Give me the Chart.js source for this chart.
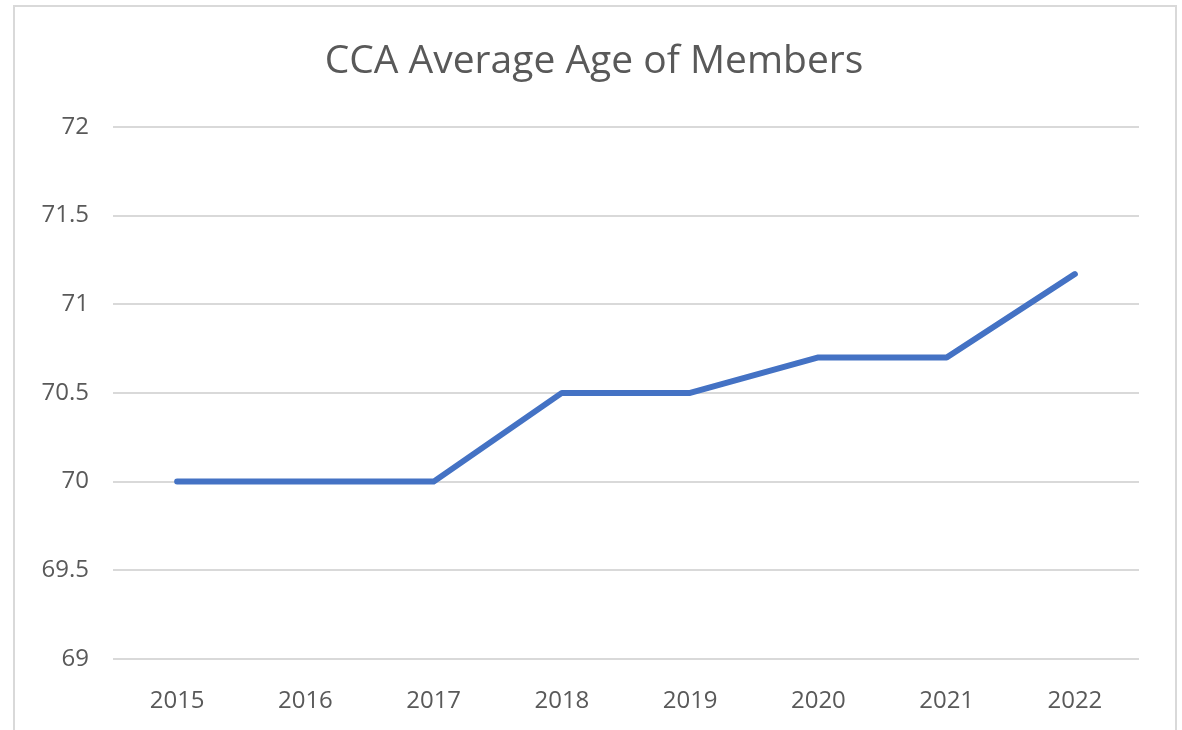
<!DOCTYPE html>
<html>
<head>
<meta charset="utf-8">
<script src="https://cdn.jsdelivr.net/npm/chart.js@4"></script>
<style>
    html, body { margin: 0; padding: 0; background: #ffffff; overflow: hidden; }
    #frame {
        position: absolute; left: 13px; top: 5px; width: 1164px; height: 740px;
        border: 2px solid #d9d9d9; box-sizing: border-box;
    }
    #wrap { position: absolute; left: 0; top: 0; width: 1182px; height: 730px; }
</style>
</head>
<body>
<div id="frame"></div>
<div id="wrap"><canvas id="graficaEdad"></canvas></div>
<script>
const years = ['2015', '2016', '2017', '2018', '2019', '2020', '2021', '2022'];
const avgAge = [70, 70, 70, 70.5, 70.5, 70.7, 70.7, 71.17];
const yTicks = [69, 69.5, 70, 70.5, 71, 71.5, 72];

// nudge the title so it sits centred over the whole frame, like the original
const shiftTitle = {
    id: 'shiftTitle',
    afterLayout: function (chart) {
        if (chart.titleBlock) {
            chart.titleBlock.left = 49;
        }
    }
};

document.addEventListener('DOMContentLoaded', function () {
    const canvas = document.getElementById('graficaEdad');
    const textColor = '#595959';
    const font = "'Open Sans', 'Liberation Sans', sans-serif";

    new Chart(canvas, {
        type: 'line',
        data: {
            labels: years,
            datasets: [{
                label: 'Average Age',
                data: avgAge,
                borderColor: '#4472c4',
                borderWidth: 6,
                borderCapStyle: 'round',
                borderJoinStyle: 'round',
                pointRadius: 0,
                tension: 0,
                fill: false
            }]
        },
        plugins: [shiftTitle],
        options: {
            responsive: true,
            maintainAspectRatio: false,
            animation: false,
            layout: {
                padding: { top: 0, right: 43, bottom: 0, left: 0 }
            },
            plugins: {
                legend: { display: false },
                tooltip: { enabled: false },
                title: {
                    display: true,
                    text: 'CCA Average Age of Members',
                    color: textColor,
                    font: { family: font, size: 39, weight: 'normal' },
                    padding: { top: 38, bottom: 42 }
                }
            },
            scales: {
                x: {
                    offset: true,
                    grid: { display: false, offset: true },
                    border: { display: false },
                    ticks: {
                        color: textColor,
                        font: { family: font, size: 24 },
                        padding: 20,
                        maxRotation: 0
                    },
                    afterFit: function (scale) { scale.height = 71; }
                },
                y: {
                    min: yTicks[0],
                    max: yTicks[yTicks.length - 1],
                    afterBuildTicks: function (scale) {
                        scale.ticks = yTicks.map(function (v) { return { value: v }; });
                    },
                    grid: { color: '#d9d9d9', lineWidth: 2, drawTicks: false },
                    border: { display: false },
                    ticks: {
                        color: textColor,
                        font: { family: font, size: 24 },
                        padding: 24,
                        callback: function (value) { return String(value); }
                    },
                    afterFit: function (scale) { scale.width = 113; }
                }
            }
        }
    });
});
</script>
</body>
</html>
